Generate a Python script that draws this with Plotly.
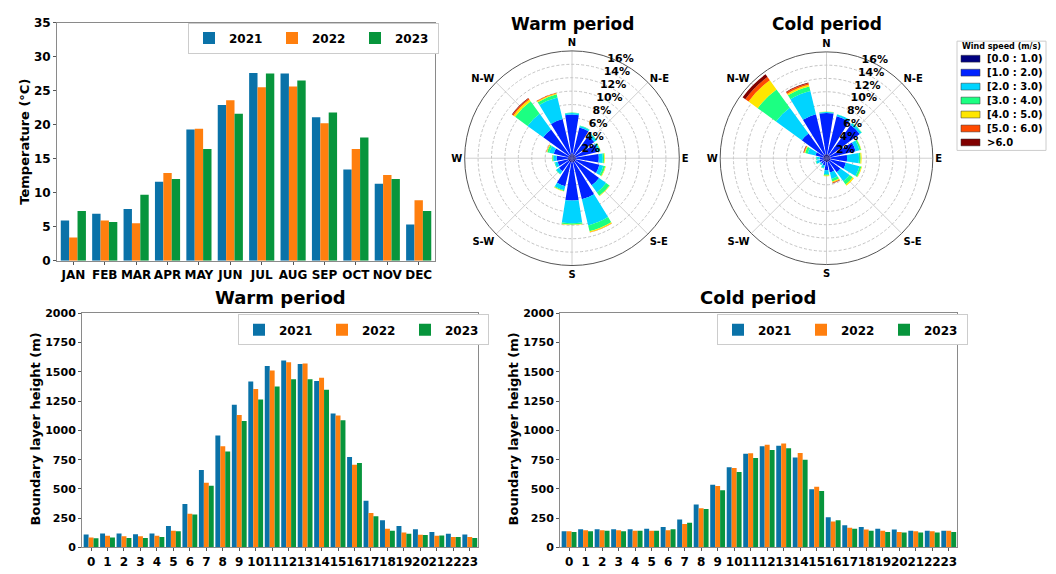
import plotly.graph_objects as go

# ---------------- data ----------------
months = ["JAN", "FEB", "MAR", "APR", "MAY", "JUN", "JUL", "AUG", "SEP", "OCT", "NOV", "DEC"]
temp_2021 = [5.9, 6.9, 7.6, 11.6, 19.3, 22.9, 27.6, 27.5, 21.1, 13.4, 11.3, 5.3]
temp_2022 = [3.4, 5.9, 5.5, 12.9, 19.4, 23.6, 25.5, 25.6, 20.2, 16.4, 12.6, 8.9]
temp_2023 = [7.3, 5.7, 9.7, 12.0, 16.4, 21.6, 27.5, 26.5, 21.8, 18.1, 12.0, 7.3]

hours = list(range(24))
warm_2021 = [111, 119, 119, 114, 119, 183, 372, 661, 956, 1219, 1417, 1550, 1597, 1567, 1422, 1144, 772, 400, 233, 183, 156, 133, 117, 111]
warm_2022 = [86, 100, 97, 97, 100, 144, 289, 553, 864, 1131, 1353, 1511, 1583, 1572, 1450, 1128, 706, 294, 161, 128, 108, 100, 89, 89]
warm_2023 = [78, 86, 81, 81, 89, 139, 281, 528, 819, 1081, 1264, 1375, 1436, 1436, 1347, 1086, 722, 267, 144, 117, 106, 103, 89, 81]
cold_2021 = [139, 156, 156, 156, 156, 161, 175, 239, 367, 536, 686, 800, 864, 869, 769, 497, 258, 189, 175, 161, 153, 144, 142, 142]
cold_2022 = [139, 147, 147, 147, 142, 144, 147, 200, 336, 525, 678, 806, 878, 889, 808, 519, 222, 169, 153, 142, 133, 139, 139, 142]
cold_2023 = [133, 139, 142, 139, 142, 144, 156, 211, 328, 489, 644, 764, 833, 847, 750, 483, 233, 161, 142, 133, 128, 128, 128, 133]

years = ["2021", "2022", "2023"]

# wind rose: 16 sectors, N, NNE, ... NNW (degrees clockwise from north)
dir_deg = [0, 22.5, 45, 67.5, 90, 112.5, 135, 157.5, 180, 202.5, 225, 247.5, 270, 292.5, 315, 337.5]
speed_bins = ["[0.0 : 1.0)", "[1.0 : 2.0)", "[2.0 : 3.0)", "[3.0 : 4.0)", "[4.0 : 5.0)", "[5.0 : 6.0)", ">6.0"]

# frequency (%) per speed bin, warm period
warm_s0 = [0.7, 0.6, 0.6, 0.6, 0.6, 0.6, 0.6, 0.6, 0.6, 0.6, 0.6, 0.6, 0.6, 0.6, 0.6, 0.6]
warm_s1 = [5.8, 4.1, 3.5, 3.3, 3.4, 3.6, 4.4, 5.7, 5.7, 3.7, 1.8, 1.6, 1.7, 2.2, 4.7, 5.4]
warm_s2 = [0.25, 0.25, 0.4, 0.35, 0.6, 0.6, 1.3, 4.0, 3.4, 0.6, 0.5, 0.4, 0.5, 0.7, 2.9, 3.3]
warm_s3 = [0.05, 0.05, 0.1, 0.1, 0.2, 0.3, 0.6, 0.9, 0.2, 0.15, 0.1, 0.1, 0.15, 0.3, 2.3, 0.5]
warm_s4 = [0, 0, 0, 0.05, 0.1, 0.1, 0.1, 0.15, 0.05, 0.05, 0, 0, 0.05, 0.1, 0.3, 0.15]
warm_s5 = [0, 0, 0, 0, 0, 0, 0, 0.05, 0, 0, 0, 0, 0, 0.05, 0.2, 0.1]
warm_s6 = [0, 0, 0, 0, 0, 0, 0, 0, 0, 0, 0, 0, 0, 0, 0.1, 0]

# frequency (%) per speed bin, cold period
cold_s0 = [0.6, 0.6, 0.6, 0.6, 0.6, 0.6, 0.6, 0.6, 0.6, 0.5, 0.5, 0.5, 0.5, 0.5, 0.6, 0.6]
cold_s1 = [6.2, 5.9, 5.6, 3.9, 2.5, 2.4, 2.0, 1.6, 1.2, 0.6, 0.5, 0.6, 0.5, 1.2, 4.0, 6.2]
cold_s2 = [0.15, 0.25, 0.3, 0.6, 1.8, 2.1, 1.7, 1.0, 0.6, 0.4, 0.25, 0.5, 0.5, 1.2, 4.8, 3.6]
cold_s3 = [0.05, 0.05, 0.1, 0.25, 0.25, 0.3, 0.6, 0.4, 0.2, 0.1, 0.05, 0.1, 0.1, 0.4, 3.4, 0.7]
cold_s4 = [0.03, 0, 0, 0.05, 0.15, 0.1, 0.2, 0.15, 0.1, 0, 0, 0, 0, 0.15, 1.7, 0.25]
cold_s5 = [0, 0, 0, 0, 0, 0, 0, 0.1, 0, 0, 0, 0, 0, 0.1, 0.6, 0.25]
cold_s6 = [0, 0, 0, 0, 0, 0, 0, 0.05, 0, 0, 0, 0, 0, 0.05, 0.5, 0.1]

warm_bins = [warm_s0, warm_s1, warm_s2, warm_s3, warm_s4, warm_s5, warm_s6]
cold_bins = [cold_s0, cold_s1, cold_s2, cold_s3, cold_s4, cold_s5, cold_s6]

compass_vals = [0, 45, 90, 135, 180, 225, 270, 315]
compass_text = ["N", "N-E", "E", "S-E", "S", "S-W", "W", "N-W"]
radial_vals = [2, 4, 6, 8, 10, 12, 14, 16]
radial_text = ["2%", "4%", "6%", "8%", "10%", "12%", "14%", "16%"]

# ---------------- styles ----------------
year_colors = ["#0a72a8", "#ff7f0e", "#07953c"]
speed_colors = ["#000080", "#0022ff", "#00d4ff", "#1cff82", "#ffe600", "#ff4a00", "#800000"]
W, H = 1056, 574
FONT = "DejaVu Sans"

fig = go.Figure()

# top-left monthly temperature
top_w = 0.267
for i, (y, vals) in enumerate(zip(years, [temp_2021, temp_2022, temp_2023])):
    fig.add_trace(go.Bar(x=list(range(12)), y=vals, name=y, marker_color=year_colors[i],
                         marker_line_width=0, width=top_w, offset=-0.4 + i * top_w,
                         xaxis="x", yaxis="y", legend="legend"))

# bottom boundary layer
bot_w = 0.3
for i, (y, vals) in enumerate(zip(years, [warm_2021, warm_2022, warm_2023])):
    fig.add_trace(go.Bar(x=hours, y=vals, name=y, marker_color=year_colors[i],
                         marker_line_width=0, width=bot_w, offset=-0.45 + i * bot_w,
                         xaxis="x2", yaxis="y2", legend="legend2"))
for i, (y, vals) in enumerate(zip(years, [cold_2021, cold_2022, cold_2023])):
    fig.add_trace(go.Bar(x=hours, y=vals, name=y, marker_color=year_colors[i],
                         marker_line_width=0, width=bot_w, offset=-0.45 + i * bot_w,
                         xaxis="x3", yaxis="y3", legend="legend3"))

# wind roses
for k, lab in enumerate(speed_bins):
    fig.add_trace(go.Barpolar(r=warm_bins[k], theta=dir_deg, width=18, name=lab,
                              marker_color=speed_colors[k], marker_line_width=0,
                              subplot="polar", showlegend=False))
for k, lab in enumerate(speed_bins):
    fig.add_trace(go.Barpolar(r=cold_bins[k], theta=dir_deg, width=18, name=lab,
                              marker_color=speed_colors[k], marker_line_width=0,
                              subplot="polar2", showlegend=False))

def px_x(a, b):
    return [a / W, b / W]

def px_y(top, bottom):
    return [1 - bottom / H, 1 - top / H]

axis_common = dict(showline=True, linecolor="#8a8a8a", linewidth=1, mirror=True,
                   ticks="outside", ticklen=3, tickcolor="#555", showgrid=False,
                   zeroline=False, tickangle=0,
                   tickfont=dict(size=12, family=FONT, weight="bold", color="black"))

def polar_layout(dom_x, dom_y):
    return dict(
        domain=dict(x=dom_x, y=dom_y),
        bgcolor="white",
        barmode="stack",
        angularaxis=dict(rotation=90, direction="clockwise", tickmode="array",
                         tickvals=compass_vals, ticktext=compass_text, ticks="",
                         showgrid=True, gridcolor="#d0d0d0", gridwidth=1,
                         showline=True, linecolor="#555", linewidth=1,
                         tickfont=dict(size=10, family=FONT, weight="bold", color="black")),
        radialaxis=dict(range=[0, 16], tickmode="array", tickvals=radial_vals,
                        ticktext=radial_text, angle=74, tickangle=74, showline=False,
                        ticks="", showgrid=True, gridcolor="#c4c4c4", griddash="3px,2px",
                        gridwidth=0.8,
                        tickfont=dict(size=11, family=FONT, weight="bold", color="black")),
    )

legend_common = dict(orientation="h", xanchor="left", yanchor="top",
                     bgcolor="white", bordercolor="#cccccc", borderwidth=1,
                     font=dict(size=12, family=FONT, weight="bold", color="black"),
                     entrywidth=38, itemsizing="constant")

fig.update_layout(
    width=W, height=H,
    margin=dict(l=0, r=0, t=0, b=0),
    paper_bgcolor="white", plot_bgcolor="white",
    font=dict(family=FONT, weight="bold", color="black"),
    barmode="overlay",
    xaxis=dict(domain=px_x(57, 435), range=[-0.52, 11.52], tickmode="array",
               tickvals=list(range(12)), ticktext=months, anchor="y", **axis_common),
    yaxis=dict(domain=px_y(16, 260), range=[0, 35], dtick=5, anchor="x", **axis_common),
    xaxis2=dict(domain=px_x(82, 478), range=[-0.55, 23.5], tickmode="array",
                tickvals=hours, ticktext=[str(h) for h in hours], anchor="y2", **axis_common),
    yaxis2=dict(domain=px_y(314, 554), range=[0, 2000], dtick=250, anchor="x2", **axis_common),
    xaxis3=dict(domain=px_x(560, 957), range=[-0.55, 23.5], tickmode="array",
                tickvals=hours, ticktext=[str(h) for h in hours], anchor="y3", **axis_common),
    yaxis3=dict(domain=px_y(314, 554), range=[0, 2000], dtick=250, anchor="x3", **axis_common),
    polar=polar_layout(px_x(462, 682), px_y(45, 265)),
    polar2=polar_layout(px_x(717.5, 935.5), px_y(46, 264)),
    legend=dict(x=188 / W, y=1 - 16 / H, **legend_common),
    legend2=dict(x=238 / W, y=1 - 315 / H, **legend_common),
    legend3=dict(x=717 / W, y=1 - 315 / H, **legend_common),
)

fig.update_layout(yaxis2_tickfont_size=11, yaxis3_tickfont_size=11)

# hand-built wind speed legend (box, swatches, labels)
lg_x0, lg_x1, lg_y0, lg_y1 = 957, 1046, 35, 147
shapes = [dict(type="rect", xref="paper", yref="paper",
               x0=lg_x0 / W, x1=lg_x1 / W, y0=1 - lg_y1 / H, y1=1 - lg_y0 / H,
               line=dict(color="#cccccc", width=1), fillcolor="white", layer="above")]
annotations = [dict(text="Wind speed (m/s)", x=(lg_x0 + lg_x1) / 2 / W, y=1 - 41 / H,
                    xanchor="center", font=dict(size=8))]
for k, lab in enumerate(speed_bins):
    yc = 53 + k * 14.3
    shapes.append(dict(type="rect", xref="paper", yref="paper",
                       x0=961 / W, x1=980 / W, y0=1 - (yc + 3.5) / H, y1=1 - (yc - 3.5) / H,
                       line=dict(color="#333", width=0.5), fillcolor=speed_colors[k], layer="above"))
    annotations.append(dict(text=lab, x=985 / W, y=1 - yc / H, xanchor="left", font=dict(size=10)))

annotations += [
    dict(text="Temperature (°C)", x=25 / W, y=1 - 138 / H, textangle=-90, xanchor="center", font=dict(size=13)),
    dict(text="Boundary layer height (m)", x=35 / W, y=1 - 433 / H, textangle=-90, xanchor="center", font=dict(size=13)),
    dict(text="Boundary layer height (m)", x=513 / W, y=1 - 433 / H, textangle=-90, xanchor="center", font=dict(size=13)),
    dict(text="Warm period", x=572 / W, y=1 - 17 / H, xanchor="center", font=dict(size=17)),
    dict(text="Cold period", x=827 / W, y=1 - 17 / H, xanchor="center", font=dict(size=17)),
    dict(text="Warm period", x=280 / W, y=1 - 298 / H, xanchor="center", font=dict(size=18)),
    dict(text="Cold period", x=758 / W, y=1 - 298 / H, xanchor="center", font=dict(size=18)),
]
for a in annotations:
    a.update(xref="paper", yref="paper", showarrow=False, yanchor="middle")
    a["font"].update(family=FONT, weight="bold", color="black")
fig.update_layout(annotations=annotations, shapes=shapes)

fig.write_html("out.html")
